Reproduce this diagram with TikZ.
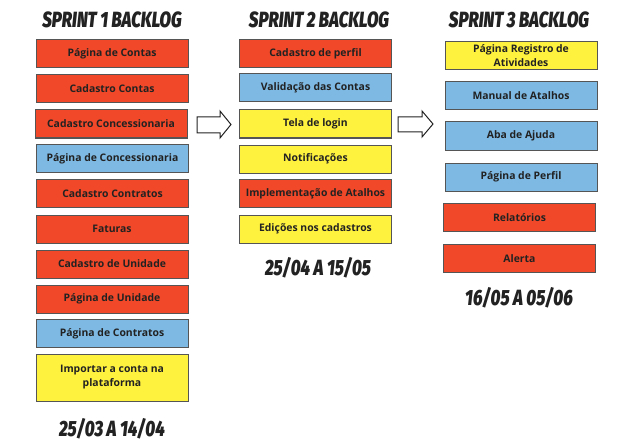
\documentclass[tikz,border=0pt]{standalone}
\usepackage{fontspec}
\setmainfont{Open Sans}
\newfontfamily\titlefont[FakeStretch=0.76, BoldItalicFont={* Black Italic}]{Fira Sans}
\definecolor{taskred}{HTML}{F04828}
\definecolor{taskblue}{HTML}{7DB9E3}
\definecolor{taskyellow}{HTML}{FFF23F}
\definecolor{edge}{HTML}{555555}
\definecolor{ink}{HTML}{222222}
\begin{document}
\begin{tikzpicture}[x=1pt,y=-1pt,
  task/.style={draw=edge, line width=1pt, minimum width=152pt, minimum height=28pt,
    inner sep=1pt, align=center, font=\fontsize{10.4}{14}\selectfont\bfseries, text=ink},
  red/.style={task, fill=taskred},
  blue/.style={task, fill=taskblue},
  yellow/.style={task, fill=taskyellow},
  heading/.style={inner sep=0pt, font=\titlefont\fontsize{22}{26}\selectfont\bfseries\itshape, text=ink},
  blockarrow/.style={draw=ink, line width=1pt, fill=white}]
\useasboundingbox (0,0) rectangle (638,444);
\fill[white] (0,0) rectangle (638,444);

% Sprint 1
\node[heading] (h1) at (112,20) {SPRINT 1 BACKLOG};
\node[red]    (a1)  at (112,54)  {Página de Contas};
\node[red]    (a2)  at (112,88.5){Cadastro Contas};
\node[red]    (a3)  at (111,124) {Cadastro Concessionaria};
\node[blue]   (a4)  at (112.5,158.5){Página de Concessionaria};
\node[red]    (a5)  at (112.5,193.5){Cadastro Contratos};
\node[red]    (a6)  at (112,229) {Faturas};
\node[red]    (a7)  at (112,264) {Cadastro de Unidade};
\node[red]    (a8)  at (112,299) {Página de Unidade};
\node[blue]   (a9)  at (112,333.5){Página de Contratos};
\node[yellow, minimum height=47pt] (a10) at (112,377.5) {Importar a conta na\\plataforma};
\node[heading] (d1) at (112,429) {25/03 A 14/04};

% Sprint 2
\node[heading] (h2) at (319,20) {SPRINT 2 BACKLOG};
\node[red]    (b1)  at (315.5,53.5){Cadastro de perfil};
\node[blue]   (b2)  at (315.5,88) {Validação das Contas};
\node[yellow] (b3)  at (315.5,124){Tela de login};
\node[yellow] (b4)  at (315.5,159){Notificações};
\node[red]    (b5)  at (315.5,193.5){Implementação de Atalhos};
\node[yellow] (b6)  at (315.5,229){Edições nos cadastros};
\node[heading] (d2) at (318,268) {25/04 A 15/05};

% Sprint 3
\node[heading] (h3) at (519,20) {SPRINT 3 BACKLOG};
\node[yellow] (c1)  at (521,55.5) {Página Registro de\\Atividades};
\node[blue]   (c2)  at (521,96)   {Manual de Atalhos};
\node[blue]   (c3)  at (521,136)  {Aba de Ajuda};
\node[blue]   (c4)  at (521,177)  {Página de Perfil};
\node[red]    (c5)  at (519.5,217.5){Relatórios};
\node[red]    (c6)  at (519.5,258.5){Alerta};
\node[heading] (d3) at (519,298) {16/05 A 05/06};

% Hand-over arrows between sprints
\draw[blockarrow] (197,117) -- (220,117) -- (220,111) -- (231,124.5)
  -- (220,138) -- (220,133) -- (197,133) -- cycle;
\draw[blockarrow] (398,117) -- (422,117) -- (422,111) -- (433,124)
  -- (422,137) -- (422,132) -- (398,132) -- cycle;
\end{tikzpicture}
\end{document}
